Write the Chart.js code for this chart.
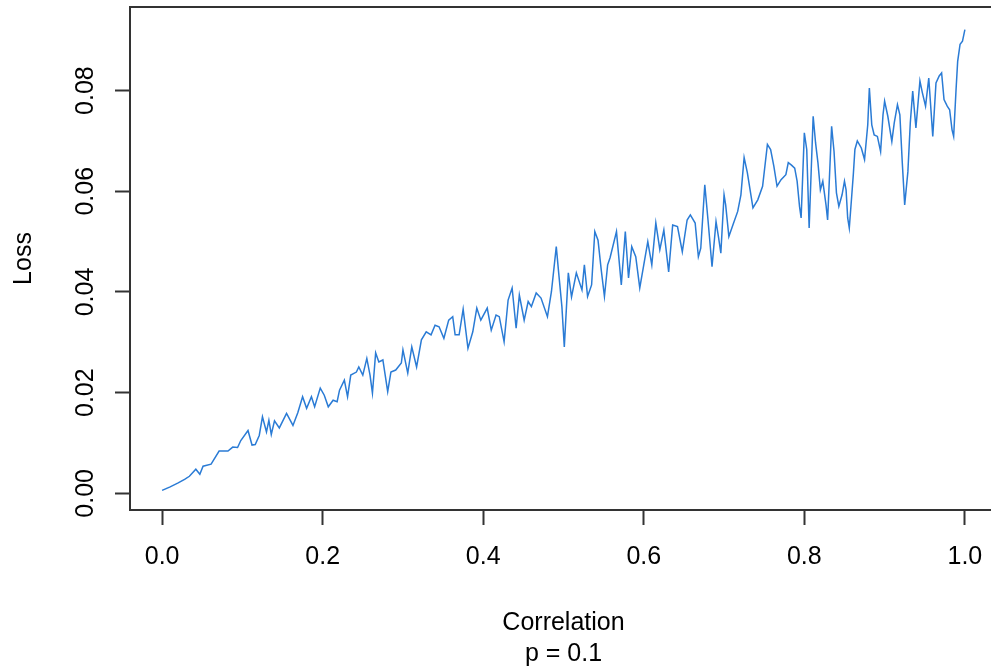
<!DOCTYPE html>
<html>
<head>
<meta charset="utf-8">
<script src="https://cdn.jsdelivr.net/npm/chart.js@4.4.0/dist/chart.umd.min.js"></script>
<style>
    html, body { margin: 0; padding: 0; background: #fff; overflow: hidden; }
    #wrap { width: 997px; height: 668px; }
</style>
</head>
<body>
<div id="wrap"><canvas id="lossChart" width="997" height="668"></canvas></div>
<script>
const correlation = [
    0.000, 0.010, 0.020, 0.028, 0.034, 0.042, 0.047, 0.051, 0.061, 0.071,
    0.082, 0.088, 0.094, 0.098, 0.107, 0.112, 0.116, 0.121, 0.125, 0.130,
    0.133, 0.136, 0.140, 0.146, 0.155, 0.163, 0.169, 0.175, 0.180, 0.186,
    0.190, 0.197, 0.202, 0.207, 0.213, 0.218, 0.221, 0.227, 0.231, 0.235,
    0.242, 0.245, 0.250, 0.255, 0.259, 0.262, 0.266, 0.270, 0.275, 0.281,
    0.285, 0.291, 0.298, 0.300, 0.306, 0.311, 0.317, 0.323, 0.329, 0.335,
    0.340, 0.345, 0.351, 0.357, 0.362, 0.365, 0.370, 0.375, 0.381, 0.387,
    0.392, 0.397, 0.405, 0.410, 0.416, 0.420, 0.426, 0.431, 0.436, 0.441,
    0.445, 0.451, 0.456, 0.460, 0.466, 0.472, 0.480, 0.485, 0.491, 0.494,
    0.498, 0.501, 0.506, 0.510, 0.516, 0.523, 0.526, 0.530, 0.535, 0.539,
    0.543, 0.547, 0.551, 0.555, 0.558, 0.566, 0.572, 0.577, 0.581, 0.585,
    0.590, 0.595, 0.600, 0.605, 0.610, 0.615, 0.620, 0.625, 0.631, 0.636,
    0.642, 0.648, 0.654, 0.658, 0.664, 0.668, 0.671, 0.676, 0.680, 0.685,
    0.690, 0.693, 0.696, 0.700, 0.702, 0.706, 0.711, 0.717, 0.721, 0.725,
    0.729, 0.736, 0.742, 0.748, 0.754, 0.758, 0.762, 0.766, 0.771, 0.777,
    0.780, 0.784, 0.788, 0.791, 0.794, 0.796, 0.800, 0.803, 0.806, 0.811,
    0.814, 0.817, 0.820, 0.823, 0.827, 0.829, 0.834, 0.837, 0.840, 0.843,
    0.847, 0.850, 0.852, 0.854, 0.856, 0.859, 0.861, 0.863, 0.866, 0.871,
    0.875, 0.879, 0.881, 0.884, 0.887, 0.891, 0.895, 0.898, 0.900, 0.904,
    0.909, 0.912, 0.916, 0.919, 0.922, 0.925, 0.929, 0.932, 0.935, 0.939,
    0.942, 0.944, 0.947, 0.951, 0.955, 0.960, 0.964, 0.968, 0.971, 0.974,
    0.978, 0.981, 0.984, 0.986, 0.989, 0.991, 0.994, 0.997, 1.000
];

const loss = [
    0.0006, 0.0013, 0.0021, 0.0028, 0.0034, 0.0048, 0.0038, 0.0054, 0.0058, 0.0084,
    0.0084, 0.0092, 0.0091, 0.0105, 0.0125, 0.0096, 0.0097, 0.0115, 0.0152, 0.0122,
    0.0145, 0.0117, 0.0144, 0.0130, 0.0159, 0.0135, 0.0160, 0.0192, 0.0169, 0.0192,
    0.0172, 0.0209, 0.0195, 0.0172, 0.0185, 0.0182, 0.0205, 0.0225, 0.0192, 0.0235,
    0.0241, 0.0251, 0.0235, 0.0268, 0.0235, 0.0199, 0.0279, 0.0261, 0.0265, 0.0202,
    0.0241, 0.0245, 0.0259, 0.0285, 0.0239, 0.0291, 0.0251, 0.0305, 0.0321, 0.0315,
    0.0334, 0.0331, 0.0308, 0.0344, 0.0351, 0.0315, 0.0315, 0.0366, 0.0288, 0.0321,
    0.0368, 0.0344, 0.0368, 0.0324, 0.0354, 0.0351, 0.0301, 0.0384, 0.0408, 0.0328,
    0.0394, 0.0344, 0.0381, 0.0371, 0.0398, 0.0388, 0.0351, 0.0401, 0.0490, 0.0438,
    0.0371, 0.0291, 0.0438, 0.0390, 0.0438, 0.0404, 0.0454, 0.0391, 0.0414, 0.0520,
    0.0503, 0.0444, 0.0391, 0.0454, 0.0468, 0.0520, 0.0414, 0.0520, 0.0428, 0.0490,
    0.0470, 0.0408, 0.0454, 0.0500, 0.0454, 0.0537, 0.0484, 0.0523, 0.0440, 0.0533,
    0.0530, 0.0480, 0.0543, 0.0553, 0.0537, 0.0470, 0.0487, 0.0613, 0.0543, 0.0450,
    0.0540, 0.0510, 0.0477, 0.0593, 0.0573, 0.0510, 0.0533, 0.0560, 0.0593, 0.0667,
    0.0637, 0.0567, 0.0583, 0.0610, 0.0693, 0.0683, 0.0650, 0.0610, 0.0623, 0.0633,
    0.0657, 0.0652, 0.0646, 0.0620, 0.0570, 0.0547, 0.0716, 0.0683, 0.0527, 0.0749,
    0.0696, 0.0656, 0.0603, 0.0620, 0.0573, 0.0543, 0.0729, 0.0679, 0.0597, 0.0570,
    0.0593, 0.0620, 0.0603, 0.0547, 0.0527, 0.0590, 0.0633, 0.0683, 0.0700, 0.0686,
    0.0663, 0.0732, 0.0805, 0.0732, 0.0712, 0.0709, 0.0679, 0.0752, 0.0779, 0.0749,
    0.0699, 0.0736, 0.0772, 0.0752, 0.0657, 0.0573, 0.0639, 0.0736, 0.0799, 0.0726,
    0.0782, 0.0819, 0.0796, 0.0769, 0.0825, 0.0709, 0.0815, 0.0829, 0.0835, 0.0782,
    0.0769, 0.0762, 0.0722, 0.0709, 0.0802, 0.0858, 0.0892, 0.0898, 0.0921
];

const xTicks = [0.0, 0.2, 0.4, 0.6, 0.8, 1.0];
const yTicks = [0.00, 0.02, 0.04, 0.06, 0.08];
const xTitle = "Correlation";
const subTitle = "p = 0.1";
const yTitle = "Loss";

const FONT = '25px "Liberation Sans", Arial, sans-serif';
const AXIS_COLOR = "#333333";

// R-style frame and labels, drawn on top of the library's own scales
const rFrame = {
    id: "rFrame",
    afterDraw(chart) {
        const ctx = chart.ctx;
        const area = chart.chartArea;
        const xs = chart.scales.x;
        const ys = chart.scales.y;

        ctx.save();
        ctx.strokeStyle = AXIS_COLOR;
        ctx.lineWidth = 2;
        ctx.strokeRect(area.left, area.top, area.right - area.left, area.bottom - area.top);

        ctx.fillStyle = "#000";
        ctx.font = FONT;
        ctx.textAlign = "center";

        // x tick labels
        ctx.textBaseline = "middle";
        xTicks.forEach(v => {
            ctx.fillText(v.toFixed(1), xs.getPixelForValue(v), 557);
        });

        // y tick labels, rotated like R's default las = 0
        yTicks.forEach(v => {
            ctx.save();
            ctx.translate(86, ys.getPixelForValue(v));
            ctx.rotate(-Math.PI / 2);
            ctx.fillText(v.toFixed(2), 0, 0);
            ctx.restore();
        });

        // axis titles
        const midX = (area.left + area.right) / 2;
        ctx.textBaseline = "alphabetic";
        ctx.fillText(xTitle, midX, 630);
        ctx.fillText(subTitle, midX, 661);

        ctx.save();
        ctx.translate(31, (area.top + area.bottom) / 2);
        ctx.rotate(-Math.PI / 2);
        ctx.fillText(yTitle, 0, 0);
        ctx.restore();

        ctx.restore();
    }
};

const ctx = document.getElementById("lossChart").getContext("2d");

new Chart(ctx, {
    type: "line",
    data: {
        datasets: [{
            data: correlation.map((c, i) => ({ x: c, y: loss[i] })),
            borderColor: "#2a7bd5",
            borderWidth: 1.5,
            pointRadius: 0,
            tension: 0,
            fill: false
        }]
    },
    options: {
        responsive: false,
        animation: false,
        devicePixelRatio: 1,
        layout: { padding: { top: 7, right: 0, bottom: 0, left: 0 } },
        plugins: {
            legend: { display: false },
            tooltip: { enabled: false }
        },
        scales: {
            x: {
                type: "linear",
                min: -0.04,
                max: 1.04,
                afterBuildTicks: scale => { scale.ticks = xTicks.map(v => ({ value: v })); },
                afterFit: scale => { scale.height = 158; },
                ticks: { display: false },
                border: { display: false },
                grid: {
                    drawOnChartArea: false,
                    drawTicks: true,
                    tickLength: 15,
                    tickWidth: 2,
                    tickColor: AXIS_COLOR
                }
            },
            y: {
                type: "linear",
                min: -0.0033,
                max: 0.0966,
                afterBuildTicks: scale => { scale.ticks = yTicks.map(v => ({ value: v })); },
                afterFit: scale => { scale.width = 130; },
                ticks: { display: false },
                border: { display: false },
                grid: {
                    drawOnChartArea: false,
                    drawTicks: true,
                    tickLength: 15,
                    tickWidth: 2,
                    tickColor: AXIS_COLOR
                }
            }
        }
    },
    plugins: [rFrame]
});
</script>
</body>
</html>
